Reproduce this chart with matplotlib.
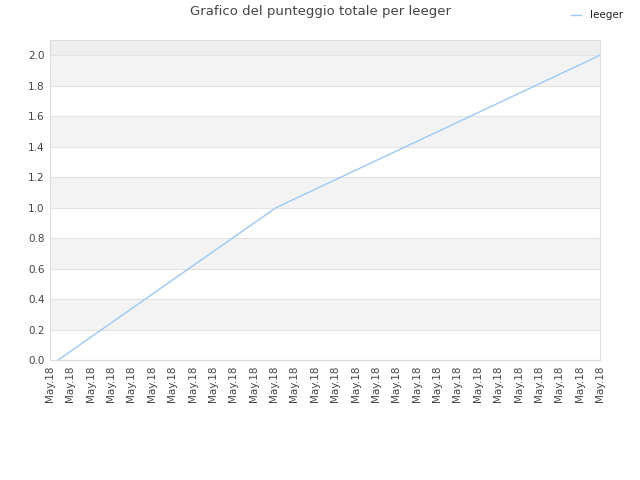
import matplotlib
matplotlib.use('Agg')
import matplotlib.pyplot as plt

# dati
tick_labels = ['May.18'] * 28
x_vals = [0.4, 11.1, 27.0]
punteggio = [0.0, 1.0, 2.0]

fig = plt.figure(figsize=(6.4, 4.8), dpi=100)
ax = fig.add_axes([50 / 640, 120 / 480, 550 / 640, 320 / 480])

# bande alternate di sfondo
for i in range(10):
    lo = i * 0.2
    if i % 2 == 1:
        ax.axhspan(lo, lo + 0.2, color='#f3f3f3', zorder=0, lw=0)
ax.axhspan(2.0, 2.1, color='#eeeeee', zorder=0, lw=0)

for yy in [i * 0.2 for i in range(11)]:
    ax.axhline(yy, color='#e2e2e2', lw=0.8, zorder=1)

ax.plot(x_vals, punteggio, color='#9cc8f4', lw=1.0, label='leeger', zorder=3)

ax.set_xlim(0, 27)
ax.set_ylim(0, 2.1)
ax.set_xticks(range(len(tick_labels)))
ax.set_xticklabels(tick_labels, rotation=90, fontsize=7.5, color='#444444')
ax.set_yticks([i * 0.2 for i in range(11)])
ax.set_yticklabels(['%.1f' % (i * 0.2) for i in range(11)], fontsize=7.5, color='#444444')
ax.tick_params(length=0, pad=4)
for s in ax.spines.values():
    s.set_color('#dddddd')
    s.set_linewidth(0.8)

fig.text(0.5, 1 - 12 / 480, 'Grafico del punteggio totale per leeger',
         ha='center', va='center', fontsize=9.5, color='#444444')
fig.legend(loc='upper right', bbox_to_anchor=(0.988, 0.998), frameon=False,
           fontsize=7.5, handlelength=1.0, handletextpad=0.8,
           labelcolor='#222222')

fig.savefig('out.png', dpi=100)
